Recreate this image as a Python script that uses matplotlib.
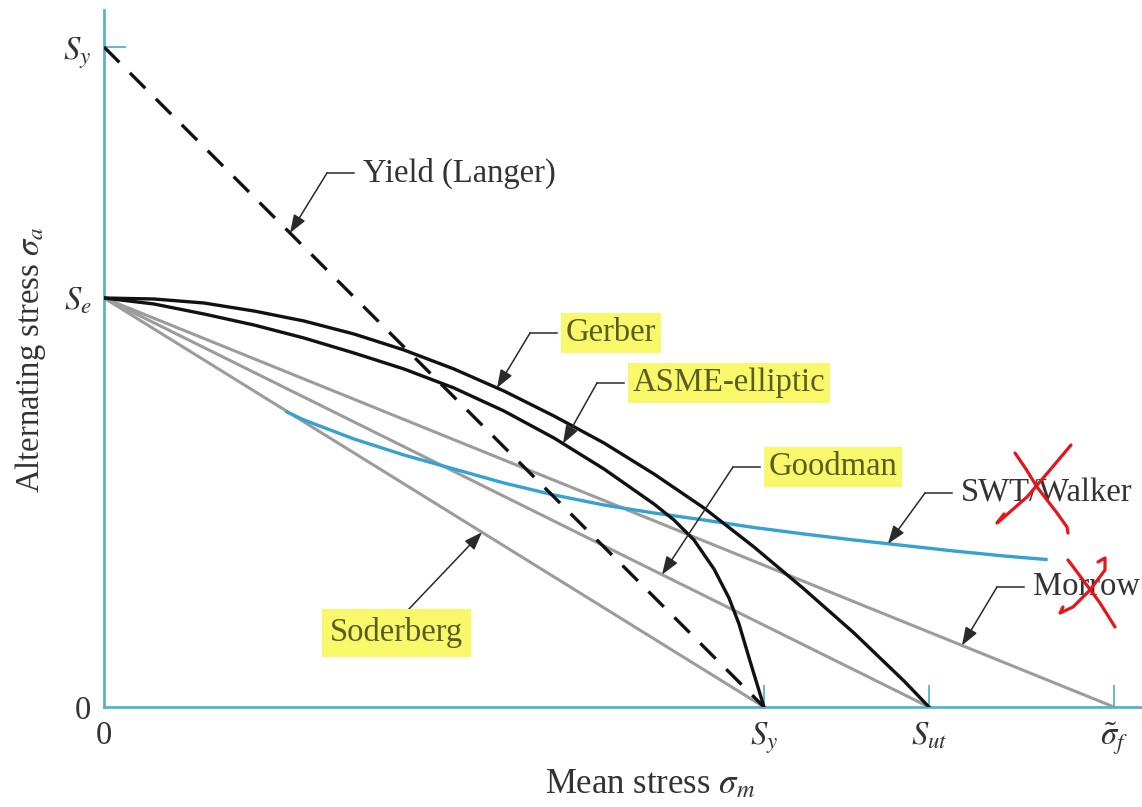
import matplotlib.pyplot as plt
import numpy as np

plt.rcParams['font.family'] = 'Liberation Serif'
plt.rcParams['mathtext.fontset'] = 'stix'

# material strengths, same stress scale on both axes
Se = 40.9
Sy = 66.0
Sut = 82.5
sig_f = 101.0

# curved criteria, sampled (mean stress, alternating stress)
gerber_m = [0, 5, 10, 15, 20, 25, 30, 35, 40, 45, 50, 55, 60, 65, 70, 75, 80, 82.5]
gerber_a = [40.9, 40.8, 40.4, 39.6, 38.6, 37.3, 35.7, 33.8, 31.6, 29.1, 26.4, 23.3,
            19.9, 16.0, 11.8, 7.4, 2.6, 0]

asme_m = [0, 5, 10, 15, 20, 25, 30, 35, 40, 45, 50, 55, 57, 59, 61, 62.5, 63.5, 64.6, 65.3, 66.0]
asme_a = [40.9, 40.3, 39.3, 38.2, 36.9, 35.4, 33.8, 31.9, 29.6, 26.9, 23.8, 20.3,
          18.7, 16.7, 13.8, 10.9, 8.3, 4.6, 2.3, 0]

swt_m = [18.3, 20, 25, 30, 35, 40, 45, 50, 55, 60, 65, 70, 75, 80, 85, 90, 94.2]
swt_a = [29.5, 28.7, 26.8, 25.2, 23.8, 22.4, 21.2, 20.2, 19.4, 18.7, 17.95, 17.3,
         16.7, 16.15, 15.6, 15.1, 14.75]

axis_c = '#55b5c8'
swt_c = '#35a2d2'
gray_c = '#9c9c9c'
lead_c = '#2a2a2a'
text_c = '#333333'
hl_c = '#f8f86a'
hl_text_c = '#5c5c20'
red_c = '#e3161c'
FS = 23.5

fig = plt.figure(figsize=(11.42, 8.07), dpi=100)
W, H = 1142, 807
ax = fig.add_axes([104 / W, 100 / H, (W - 104) / W, 697 / H])
ax.set_xlim(0, 103.8)
ax.set_ylim(0, 69.7)

for s in ['top', 'right']:
    ax.spines[s].set_visible(False)
for s in ['left', 'bottom']:
    ax.spines[s].set_color(axis_c)
    ax.spines[s].set_linewidth(2)

# straight-line criteria from Se down to each intercept
ax.plot([0, Sy], [Se, 0], color=gray_c, lw=2.2, zorder=2)
ax.plot([0, Sut], [Se, 0], color=gray_c, lw=2.2, zorder=2)
ax.plot([0, sig_f], [Se, 0], color=gray_c, lw=2.2, zorder=2)

ax.plot(swt_m, swt_a, color=swt_c, lw=2.4, zorder=3, solid_joinstyle='round')
ax.plot(gerber_m, gerber_a, color='#111111', lw=2.4, zorder=4, solid_joinstyle='round')
ax.plot(asme_m, asme_a, color='#111111', lw=2.4, zorder=4, solid_joinstyle='round')
ax.plot([0, Sy], [Sy, 0], color='#111111', lw=2.4, ls=(0, (6.5, 4.5)), zorder=5)

ax.set_xticks([0, Sy, Sut, sig_f], ['0', '$S_y$', '$S_{ut}$', r'$\tilde{\sigma}_f$'])
ax.set_yticks([0, Se, Sy], ['0', '$S_e$', '$S_y$'])
ax.tick_params(axis='x', direction='in', length=16, width=1.3, color=axis_c,
               pad=10, labelsize=FS, labelcolor=text_c)
ax.tick_params(axis='y', direction='in', length=16, width=1.3, color=axis_c,
               pad=9, labelsize=FS, labelcolor=text_c)
ax.xaxis.get_major_ticks()[0].tick1line.set_visible(False)
for t in ax.yaxis.get_major_ticks()[:2]:
    t.tick1line.set_visible(False)

ax.set_xlabel(r'Mean stress $\sigma_m$', fontsize=25, color=text_c, va='center')
ax.xaxis.set_label_coords(0.526, -0.111)
ax.set_ylabel(r'Alternating stress $\sigma_a$', fontsize=FS, color=text_c, va='center')
ax.yaxis.set_label_coords(-0.071, 0.498)

ARROW = dict(arrowstyle='-|>,head_length=0.55,head_width=0.2', color=lead_c,
             lw=1.1, shrinkA=0, shrinkB=0, mutation_scale=20)


def on(xs, ys, x):
    return (x, float(np.interp(x, xs, ys)))


def label(text, corner, tip, run=2.7, hl=False):
    x0, y0 = corner
    ax.plot([x0, x0 + run], [y0, y0], color=lead_c, lw=1.1, zorder=6)
    ax.annotate('', xy=tip, xytext=corner, annotation_clip=False,
                arrowprops=ARROW, zorder=6)
    kw = {}
    if hl:
        kw['bbox'] = dict(boxstyle='square,pad=0.14', fc=hl_c, ec='none')
    return ax.text(x0 + run + 0.9, y0, text, ha='left', va='center', fontsize=FS,
                   color=hl_text_c if hl else text_c, zorder=7, **kw)


label('Yield (Langer)', (22.3, 53.4), (18.6, Sy - 18.6))
label('Gerber', (42.6, 37.4), on(gerber_m, gerber_a, 39.3), hl=True)
label('ASME-elliptic', (49.3, 32.4), on(asme_m, asme_a, 45.9), hl=True)
label('Goodman', (62.9, 24.0), on([0, Sut], [Se, 0], 55.8), hl=True)
label('SWT/Walker', (82.1, 21.4), on(swt_m, swt_a, 78.4))
label('Morrow', (89.3, 12.0), on([0, sig_f], [Se, 0], 85.8))

# Soderberg: plain arrow from below the label
ax.annotate('', xy=on([0, Sy], [Se, 0], 37.8), xytext=(30.4, 9.7),
            arrowprops=ARROW, zorder=6)
ax.text(22.6, 7.4, 'Soderberg', ha='left', va='center', fontsize=FS,
        color=hl_text_c, zorder=7,
        bbox=dict(boxstyle='square,pad=0.25', fc=hl_c, ec='none'))

# hand-drawn crosses over the struck-out labels
swt_x = [
    [(5.5, 4.2), (6.6, 2.6), (7.7, 0.8), (9.7, -1.8), (10.7, -3.2), (10.8, -3.8)],
    [(11.1, 5.0), (9.0, 2.5), (6.7, -0.2), (4.3, -2.3), (3.7, -2.8), (4.4, -1.9)],
]
morrow_x = [
    [(3.6, 2.7), (5.1, 0.7), (6.8, -1.6), (8.3, -4.0)],
    [(6.6, 2.5), (7.3, 2.9), (7.3, 1.7), (5.8, -0.3), (4.1, -2.0), (2.8, -2.6), (3.1, -2.0)],
]
for (ox, oy), strokes in [((85.6, 21.2), swt_x), ((92.8, 12.0), morrow_x)]:
    for st in strokes:
        ax.plot([ox + p[0] for p in st], [oy + p[1] for p in st], color=red_c,
                lw=2.3, solid_capstyle='round', solid_joinstyle='round',
                zorder=8, clip_on=False)

fig.savefig('out.png', dpi=100)
